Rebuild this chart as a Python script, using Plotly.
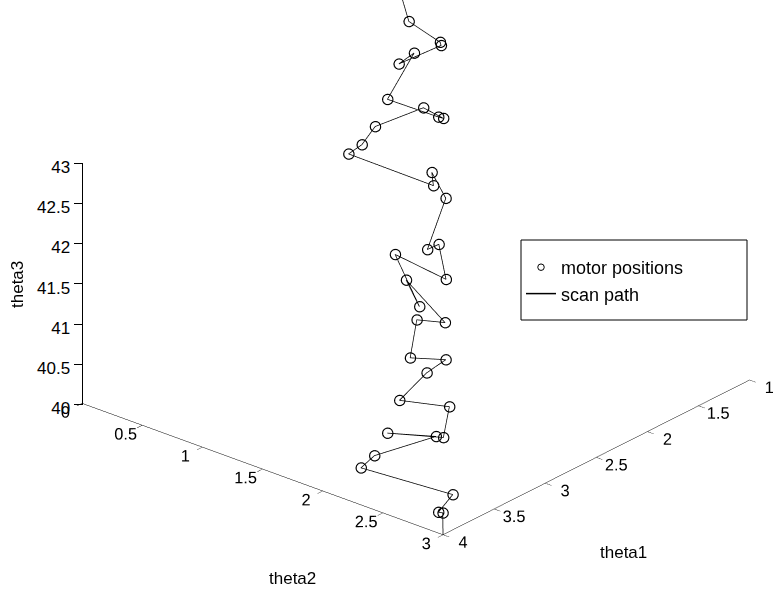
import plotly.graph_objects as go

# motor positions (bottom -> top along the scan)
theta1 = [3.95, 3.95, 3.6, 3.6, 3.6, 3.6, 3.6, 3.6, 3.6, 3.6, 3.6, 3.6,
          3.6, 3.6, 3.6, 3.6, 3.6, 3.6, 3.6, 3.6, 3.6, 3.6, 3.6, 3.6,
          3.6, 3.6, 3.6, 3.6, 3.6, 3.6, 3.6, 3.6, 3.6, 3.6, 3.6, 3.6]
theta2 = [2.955, 2.919, 2.741, 1.978, 2.090, 2.602, 2.198, 2.663, 2.713, 2.298,
          2.525, 2.683, 2.387, 2.442, 2.677, 2.354, 2.464, 2.262, 2.685, 2.625,
          2.530, 2.683, 2.567, 2.580, 1.875, 1.986, 2.096, 2.497, 2.663, 2.622,
          2.198, 2.420, 2.293, 2.644, 2.636, 2.376]
theta3 = [40.216, 40.205, 40.102, 40.019, 40.232, 40.751, 40.572, 40.771, 41.182, 41.035,
          41.502, 41.752, 41.613, 42.117, 42.211, 42.565, 42.294, 42.834, 42.754, 43.158,
          43.041, 43.764, 44.023, 43.865, 43.875, 44.051, 44.337, 44.790, 44.749, 44.743,
          44.732, 45.430, 45.225, 45.647, 45.683, 45.800]

# scan path: start position, the motor positions, next (off-figure) position
path_start = [4.0, 3.0, 40.0]
path_next = [3.6, 2.304, 46.13]
path_theta1 = [path_start[0]] + theta1 + [path_next[0]]
path_theta2 = [path_start[1]] + theta2 + [path_next[1]]
path_theta3 = [path_start[2]] + theta3 + [path_next[2]]

x_range = [1, 4]
y_range = [0, 3]
z_range = [40, 46.2]          # scene extent (data reaches above the labelled axis)
z_axis_range = [40, 43]       # labelled part of the vertical axis
x_ticks = [1, 1.5, 2, 2.5, 3, 3.5, 4]
y_ticks = [0, 0.5, 1, 1.5, 2, 2.5, 3]
z_ticks = [40, 40.5, 41, 41.5, 42, 42.5, 43]

FONT = "Liberation Sans, Arial, sans-serif"

fig = go.Figure()
fig.add_trace(go.Scatter3d(
    x=theta1, y=theta2, z=theta3, mode="markers", name="motor positions",
    marker=dict(symbol="circle-open", size=6.5, color="black"),
    legendgroup="a", hoverinfo="skip"))
fig.add_trace(go.Scatter3d(
    x=path_theta1, y=path_theta2, z=path_theta3, mode="lines", name="scan path",
    line=dict(color="black", width=1.5), legendgroup="b", hoverinfo="skip"))
# empty 2D trace so the flat vertical theta3 axis (drawn by a cartesian y axis) exists
fig.add_trace(go.Scatter(x=[], y=[], showlegend=False, hoverinfo="skip"))

def ax(rng, ticks, show=True):
    return dict(range=rng, tickvals=ticks, showline=show, linecolor="black", linewidth=1,
                showgrid=False, zeroline=False, showbackground=False,
                ticks="outside" if show else "", showticklabels=show,
                ticklen=8, tickcolor="black", tickwidth=1, showspikes=False, tickangle=0,
                title=dict(text=""), tickfont=dict(family=FONT, size=14, color="black"),
                autorange=False)

K = 1.6
ZS = 0.5626
direction = (0.6886, 0.5848, 0.4288)
center = (0.1459 * K + 0.0022 - 0.0025, 0.0427 * K + 0.0019 - 0.0022,
          -0.2926 * K - 0.0061 + 0.0070)
d = 3.0
eye = tuple(c + d * v for c, v in zip(center, direction))

fig.update_layout(
    width=773, height=592, margin=dict(l=0, r=0, t=0, b=0, autoexpand=False),
    paper_bgcolor="white", plot_bgcolor="rgba(0,0,0,0)",
    font=dict(family=FONT, size=17, color="black"),
    scene=dict(
        domain=dict(x=[0, 1], y=[0, 1]),
        xaxis=ax(x_range, x_ticks), yaxis=ax(y_range, y_ticks),
        zaxis=ax(z_range, z_ticks, False),
        aspectmode="manual",
        aspectratio=dict(x=K, y=K, z=ZS * (z_range[1] - z_range[0]) / 3 * K),
        camera=dict(projection=dict(type="orthographic"), up=dict(x=0, y=0, z=1),
                    center=dict(x=center[0], y=center[1], z=center[2]),
                    eye=dict(x=eye[0], y=eye[1], z=eye[2])),
        bgcolor="rgba(0,0,0,0)"),
    xaxis=dict(visible=False, domain=[0, 1], range=[0, 1], automargin=False),
    yaxis=dict(range=z_axis_range, tickvals=z_ticks, domain=[1 - 404.5 / 592, 1 - 163 / 592],
               anchor="free", position=81.5 / 773, side="left", automargin=False,
               showline=True, linecolor="black", linewidth=1, showgrid=False, zeroline=False,
               ticks="outside", ticklen=8, tickcolor="black", tickwidth=1,
               ticklabelshift=4, tickfont=dict(family=FONT, size=17, color="black")),
    showlegend=True,
    legend=dict(x=521 / 773, y=1 - 249 / 592, xanchor="left", yanchor="top",
                bgcolor="rgba(0,0,0,0)", borderwidth=0, tracegroupgap=0,
                font=dict(family=FONT, size=18, color="black")),
    shapes=[dict(type="rect", xref="paper", yref="paper",
                 x0=521 / 773, x1=747 / 773, y0=1 - 320 / 592, y1=1 - 240 / 592,
                 line=dict(color="black", width=1))],
    annotations=[
        dict(text="theta3", x=18 / 773, y=1 - 285 / 592, xref="paper", yref="paper",
             xanchor="center", yanchor="middle",
             showarrow=False, textangle=-90, font=dict(family=FONT, size=17)),
        dict(text="theta2", x=292 / 773, y=1 - 578 / 592, xref="paper", yref="paper",
             xanchor="center", yanchor="middle",
             showarrow=False, font=dict(family=FONT, size=17)),
        dict(text="theta1", x=623 / 773, y=1 - 552 / 592, xref="paper", yref="paper",
             xanchor="center", yanchor="middle",
             showarrow=False, font=dict(family=FONT, size=17)),
    ],
)
fig.write_html("out.html")
